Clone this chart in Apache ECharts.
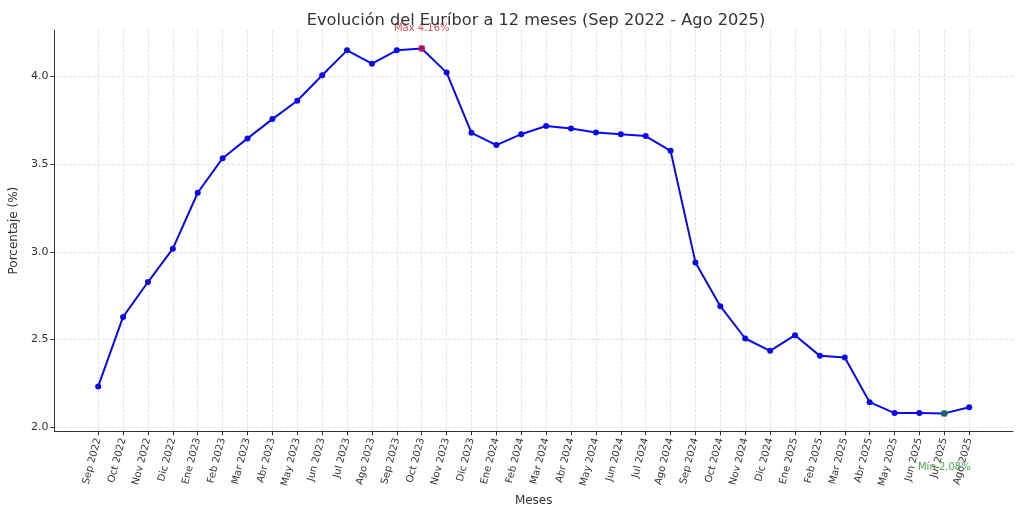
<!DOCTYPE html>
<html><head><meta charset="utf-8">
<script src="https://cdn.jsdelivr.net/npm/echarts@6/dist/echarts.min.js"></script>
<style>html,body{margin:0;padding:0;background:#fff}#c{width:1024px;height:512px}</style>
</head><body><div id="c"></div>
<script>
const months = ["Sep 2022","Oct 2022","Nov 2022","Dic 2022","Ene 2023","Feb 2023","Mar 2023","Abr 2023","May 2023","Jun 2023","Jul 2023","Ago 2023","Sep 2023","Oct 2023","Nov 2023","Dic 2023","Ene 2024","Feb 2024","Mar 2024","Abr 2024","May 2024","Jun 2024","Jul 2024","Ago 2024","Sep 2024","Oct 2024","Nov 2024","Dic 2024","Ene 2025","Feb 2025","Mar 2025","Abr 2025","May 2025","Jun 2025","Jul 2025","Ago 2025"];
const euribor = [2.233,2.629,2.828,3.018,3.337,3.534,3.647,3.757,3.862,4.007,4.149,4.073,4.149,4.160,4.022,3.679,3.609,3.671,3.718,3.703,3.680,3.670,3.660,3.576,2.940,2.690,2.506,2.436,2.525,2.407,2.398,2.143,2.081,2.081,2.079,2.114];
const yTicks = [2.0,2.5,3.0,3.5,4.0];
const maxIdx = 13, minIdx = 34;
const maxLabel = "Max 4.16%", minLabel = "Mín 2.08%";

const xIdx = months.map((m,i)=>i);
const font = "DejaVu Sans";
const chart = echarts.init(document.getElementById('c'), null, {renderer:'canvas'});
chart.setOption({
  animation:false,
  backgroundColor:'#fff',
  title:{text:"Evolución del Euríbor a 12 meses (Sep 2022 - Ago 2025)",left:531,top:8,textAlign:'center',
    textStyle:{fontFamily:font,fontSize:16.2,fontWeight:'normal',color:'#333'}},
  grid:{left:50,right:11,top:30,bottom:77,containLabel:false},
  xAxis:{type:'value',min:-1.76,max:36.76,
    name:'Meses',nameLocation:'middle',nameGap:53,nameTextStyle:{fontFamily:font,fontSize:12,color:'#333'},
    axisLine:{show:true,onZero:false,lineStyle:{color:'#333',width:1}},
    axisTick:{show:true,customValues:xIdx,length:4,lineStyle:{color:'#333'}},
    axisLabel:{customValues:xIdx,rotate:75,fontFamily:font,fontSize:10,color:'#333',margin:7,
      formatter:v=>months[Math.round(v)]||''},
    splitLine:{show:true,lineStyle:{color:'#dcdcdc',type:'dashed',width:0.8}}},
  yAxis:{type:'value',min:1.977,max:4.265,
    name:'Porcentaje (%)',nameLocation:'middle',nameGap:28,nameTextStyle:{fontFamily:font,fontSize:12,color:'#333'},
    axisLine:{show:true,onZero:false,lineStyle:{color:'#333',width:1}},
    axisTick:{show:true,customValues:yTicks,length:4,lineStyle:{color:'#333'}},
    axisLabel:{customValues:yTicks,fontFamily:font,fontSize:11,color:'#333',margin:6,formatter:v=>v.toFixed(1)},
    splitLine:{show:true,lineStyle:{color:'#dcdcdc',type:'dashed',width:0.8}}},
  series:[
    {type:'line',data:euribor.map((v,i)=>[i,v]),symbol:'circle',symbolSize:6,
      lineStyle:{color:'#0a0aee',width:2},itemStyle:{color:'#0a0aee'},z:3},
    {type:'scatter',symbol:'rect',symbolSize:6,z:4,
      data:[{value:[maxIdx,euribor[maxIdx]],itemStyle:{color:'#dc143c'},
        label:{show:true,formatter:maxLabel,position:'top',distance:12,color:'#e02020',fontFamily:font,fontSize:10}},
        {value:[minIdx,euribor[minIdx]],itemStyle:{color:'#208040'},
        label:{show:true,formatter:minLabel,position:'bottom',offset:[0,41],color:'#1a9a1a',fontFamily:font,fontSize:10}}]}
  ]
});
</script></body></html>
